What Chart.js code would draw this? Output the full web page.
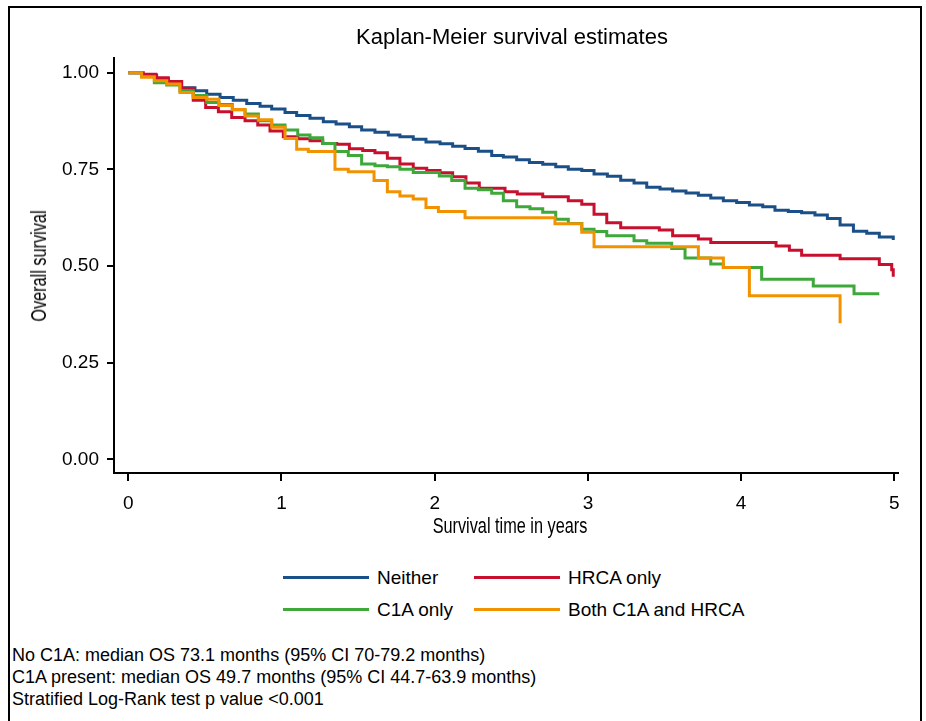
<!DOCTYPE html>
<html>
<head>
<meta charset="utf-8">
<script src="https://cdn.jsdelivr.net/npm/chart.js@4.4.1/dist/chart.umd.min.js"></script>
<style>
  body { margin: 0; background: #fff; width: 926px; height: 721px; overflow: hidden; position: relative; font-family: "Liberation Sans", Arial, sans-serif; color: #000; }
  #frame { position: absolute; left: 8px; top: 6px; width: 914px; height: 740px; border: 2px solid #000; box-sizing: border-box; }
  #wrap { position: absolute; left: 0; top: 0; width: 926px; height: 560px; }
  #title { position: absolute; top: 24px; left: 312px; width: 400px; text-align: center; font-size: 22px; line-height: 26px; }
  .axtitle { position: absolute; white-space: nowrap; font-size: 22px; line-height: 26px; }
  #xtitle { left: 510px; top: 513px; transform: translate(-50%, 0) scaleX(0.74); }
  #ytitle { left: 39px; top: 266px; transform: translate(-50%, -50%) rotate(-90deg) scaleX(0.74); }
  #legend { position: absolute; left: 283px; top: 566px; display: grid; grid-template-columns: 191px auto; grid-auto-rows: 32px; font-size: 19px; line-height: 24px; }
  #legend .sw { display: inline-block; width: 86px; height: 3px; vertical-align: middle; margin-right: 8px; position: relative; top: -1px; }
  #notes { position: absolute; left: 12px; top: 644px; font-size: 18px; line-height: 22px; }
</style>
</head>
<body>
<div id="frame"></div>
<div id="wrap"><canvas id="kmChart"></canvas></div>
<div id="title">Kaplan-Meier survival estimates</div>
<div id="xtitle" class="axtitle">Survival time in years</div>
<div id="ytitle" class="axtitle">Overall survival</div>
<div id="legend"></div>
<div id="notes">
  <div>No C1A: median OS 73.1 months (95% CI 70-79.2 months)</div>
  <div>C1A present: median OS 49.7 months (95% CI 44.7-63.9 months)</div>
  <div>Stratified Log-Rank test p value &lt;0.001</div>
</div>
<script>
  //=======================================================//
  // data (times in years where the curve steps, survival after the step)

  const seriesNames = ['Neither', 'HRCA only', 'C1A only', 'Both C1A and HRCA'];
  const seriesColors = ['#1a4f88', '#c8102e', '#3ea83a', '#f39200'];

  const xTicks = [0, 1, 2, 3, 4, 5];
  const yTicks = [0, 0.25, 0.5, 0.75, 1];
  const yTickLabels = ['0.00', '0.25', '0.50', '0.75', '1.00'];

  const neitherT = [0, 0.087, 0.185, 0.261, 0.348, 0.435, 0.512, 0.599, 0.685, 0.773, 0.860, 0.936, 1.023, 1.099, 1.186,
    1.273, 1.356, 1.443, 1.523, 1.610, 1.697, 1.773, 1.860, 1.943, 2.035, 2.117, 2.198, 2.285, 2.372, 2.448, 2.535,
    2.618, 2.705, 2.790, 2.872, 2.960, 3.040, 3.127, 3.214, 3.301, 3.384, 3.471, 3.553, 3.640, 3.721, 3.802, 3.884,
    3.971, 4.054, 4.141, 4.221, 4.308, 4.395, 4.482, 4.563, 4.646, 4.733, 4.820, 4.902, 4.993];
  const neitherS = [1, 0.994, 0.985, 0.977, 0.961, 0.953, 0.944, 0.936, 0.929, 0.920, 0.913, 0.906, 0.897, 0.889, 0.882,
    0.873, 0.867, 0.860, 0.852, 0.846, 0.839, 0.834, 0.828, 0.821, 0.816, 0.810, 0.804, 0.797, 0.786, 0.782, 0.775,
    0.768, 0.763, 0.757, 0.750, 0.747, 0.738, 0.732, 0.722, 0.715, 0.704, 0.699, 0.694, 0.689, 0.683, 0.676, 0.669,
    0.664, 0.658, 0.653, 0.644, 0.641, 0.638, 0.632, 0.623, 0.606, 0.590, 0.585, 0.575, 0.567];

  const hrcaT = [0, 0.098, 0.179, 0.261, 0.348, 0.424, 0.505, 0.588, 0.675, 0.762, 0.845, 0.925, 1.012, 1.106, 1.186,
    1.269, 1.360, 1.443, 1.530, 1.610, 1.691, 1.773, 1.860, 1.948, 2.035, 2.117, 2.204, 2.291, 2.459, 2.539, 2.705,
    2.872, 2.960, 3.040, 3.123, 3.214, 3.466, 3.553, 3.721, 3.802, 4.228, 4.315, 4.395, 4.646, 4.902, 4.983, 4.993];
  const hrcaS = [1, 0.996, 0.987, 0.977, 0.960, 0.929, 0.910, 0.899, 0.884, 0.876, 0.865, 0.849, 0.834, 0.829, 0.824,
    0.817, 0.815, 0.803, 0.799, 0.793, 0.779, 0.764, 0.753, 0.747, 0.741, 0.731, 0.715, 0.701, 0.692, 0.686, 0.679,
    0.669, 0.660, 0.634, 0.612, 0.599, 0.593, 0.578, 0.570, 0.561, 0.552, 0.541, 0.528, 0.519, 0.504, 0.490, 0.472];

  const c1aT = [0, 0.087, 0.170, 0.251, 0.337, 0.424, 0.512, 0.592, 0.679, 0.762, 0.849, 0.936, 1.023, 1.106, 1.186,
    1.269, 1.349, 1.436, 1.523, 1.610, 1.691, 1.773, 1.860, 2.030, 2.111, 2.198, 2.285, 2.372, 2.448, 2.535, 2.622,
    2.705, 2.790, 2.872, 2.960, 3.040, 3.123, 3.301, 3.384, 3.547, 3.634, 3.802, 3.884, 4.134, 4.471, 4.737, 4.902];
  const c1aS = [1, 0.990, 0.974, 0.968, 0.953, 0.941, 0.923, 0.918, 0.904, 0.893, 0.876, 0.865, 0.852, 0.839, 0.832,
    0.817, 0.796, 0.786, 0.764, 0.759, 0.757, 0.750, 0.742, 0.733, 0.721, 0.701, 0.697, 0.688, 0.669, 0.653, 0.648,
    0.639, 0.621, 0.610, 0.595, 0.589, 0.578, 0.565, 0.559, 0.545, 0.521, 0.505, 0.496, 0.466, 0.448, 0.428, 0.428];

  const bothT = [0, 0.087, 0.170, 0.251, 0.337, 0.424, 0.512, 0.592, 0.679, 0.762, 0.849, 0.936, 1.023, 1.099, 1.175,
    1.349, 1.436, 1.604, 1.691, 1.773, 1.860, 1.943, 2.024, 2.198, 2.785, 2.960, 3.040, 3.721, 3.884, 4.054, 4.646];
  const bothS = [1, 0.988, 0.979, 0.971, 0.949, 0.936, 0.931, 0.915, 0.905, 0.888, 0.878, 0.859, 0.830, 0.802, 0.796,
    0.750, 0.744, 0.721, 0.692, 0.681, 0.673, 0.651, 0.641, 0.625, 0.609, 0.587, 0.550, 0.521, 0.496, 0.423, 0.352];

  const allT = [neitherT, hrcaT, c1aT, bothT];
  const allS = [neitherS, hrcaS, c1aS, bothS];

  //=======================================================//
  // legend (html)

  const legendBox = document.getElementById('legend');
  seriesNames.forEach((name, i) => {
    const item = document.createElement('div');
    item.innerHTML = '<span class="sw" style="background:' + seriesColors[i] + '"></span>' + name;
    legendBox.appendChild(item);
  });

  //=======================================================//
  // chart

  const tickFont = { family: '"Liberation Sans", Arial, sans-serif', size: 19 };

  const ctx = document.getElementById('kmChart');
  new Chart(ctx, {
    type: 'line',
    data: {
      datasets: seriesNames.map((name, i) => ({
        label: name,
        data: allT[i].map((t, j) => ({ x: t, y: allS[i][j] })),
        borderColor: seriesColors[i],
        backgroundColor: seriesColors[i],
        borderWidth: 3,
        pointRadius: 0,
        stepped: true,
        fill: false,
        order: 3 - i // last series drawn on top
      }))
    },
    options: {
      responsive: true,
      maintainAspectRatio: false,
      animation: false,
      events: [],
      layout: {
        padding: { top: 58, left: 0, right: 28, bottom: 17 }
      },
      scales: {
        x: {
          type: 'linear',
          min: -0.0933,
          max: 5.024,
          afterBuildTicks: (scale) => { scale.ticks = xTicks.map(v => ({ value: v })); },
          afterFit: (scale) => { scale.height = 70; },
          border: { display: true, color: '#000', width: 2 },
          grid: { display: true, drawOnChartArea: false, drawTicks: true, tickLength: 8, color: '#000', lineWidth: 2 },
          ticks: { color: '#000', font: tickFont, padding: 11, maxRotation: 0 }
        },
        y: {
          type: 'linear',
          min: -0.0354,
          max: 1.038,
          afterBuildTicks: (scale) => { scale.ticks = yTicks.map(v => ({ value: v })); },
          afterFit: (scale) => { scale.width = 114; },
          border: { display: true, color: '#000', width: 2 },
          grid: { display: true, drawOnChartArea: false, drawTicks: true, tickLength: 7, color: '#000', lineWidth: 2 },
          ticks: {
            color: '#000',
            font: tickFont,
            padding: 8,
            callback: (value) => yTickLabels[yTicks.indexOf(value)]
          }
        }
      },
      plugins: {
        legend: { display: false },
        tooltip: { enabled: false },
        title: { display: false }
      }
    }
  });
</script>
</body>
</html>
